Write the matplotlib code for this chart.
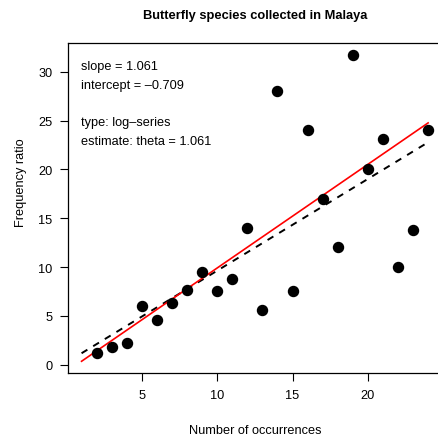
import numpy as np
import matplotlib
matplotlib.use("Agg")
import matplotlib.pyplot as plt

plt.rcParams['font.family'] = ['Liberation Sans', 'DejaVu Sans']

# Ord plot data: k vs k * n_k / n_(k-1)
occurrences = [2, 3, 4, 5, 6, 7, 8, 9, 10, 11, 12, 13, 14, 15, 16, 17, 18, 19, 20, 21, 22, 23, 24]
freq_ratio = [1.25, 1.78, 2.18, 6.04, 4.55, 6.36, 7.60, 9.47, 7.50, 8.80, 14.0, 5.57,
              28.0, 7.50, 24.0, 17.0, 12.0, 31.67, 20.0, 23.1, 10.0, 13.8, 24.0]
slope = 1.061
intercept = -0.709
line_x = [1, 24]

x = np.array(occurrences)
y = np.array(freq_ratio)
ols = np.polyfit(x, y, 1)
lx = np.array(line_x)

fig = plt.figure(figsize=(4.39, 4.39), dpi=100)
ax = fig.add_axes([0.1542, 0.1487, 0.8526, 0.7503])

ax.plot(lx, np.polyval(ols, lx), color="black", lw=1.4, ls=(0, (3.5, 3.5)))
ax.plot(lx, slope * lx + intercept, color="red", lw=1.2)
ax.scatter(x, y, s=52, color="black", zorder=3)

ax.set_xlim(0.08, 24.92)
ax.set_ylim(-0.82, 32.9)
ax.set_xticks([5, 10, 15, 20])
ax.set_yticks([0, 5, 10, 15, 20, 25, 30])
ax.tick_params(axis="both", direction="out", length=5.5, width=0.8, labelsize=9.2)
ax.tick_params(axis="x", pad=6)
ax.tick_params(axis="y", pad=5.5)
for s in ax.spines.values():
    s.set_linewidth(0.9)

ax.set_title("Butterfly species collected in Malaya", fontsize=9.3, fontweight="bold", pad=18.5)
ax.set_xlabel("Number of occurrences", fontsize=9.2)
ax.set_ylabel("Frequency ratio", fontsize=9.2)
ax.xaxis.set_label_coords(0.5, -0.173)
ax.xaxis.label.set_va("center")
ax.yaxis.set_label_coords(-0.1256, 0.579)
ax.yaxis.label.set_va("center")
ax.yaxis.label.set_ha("center")

lines = [(0.931, f"slope = {slope:.3f}"),
         (0.873, f"intercept = \u2013{abs(intercept):.3f}"),
         (0.761, "type: log\u2013series"),
         (0.703, f"estimate: theta = {slope:.3f}")]
for yy, txt in lines:
    ax.text(0.0355, yy, txt, transform=ax.transAxes, fontsize=9.2, va="center", ha="left")

fig.savefig("out.png", dpi=100)
